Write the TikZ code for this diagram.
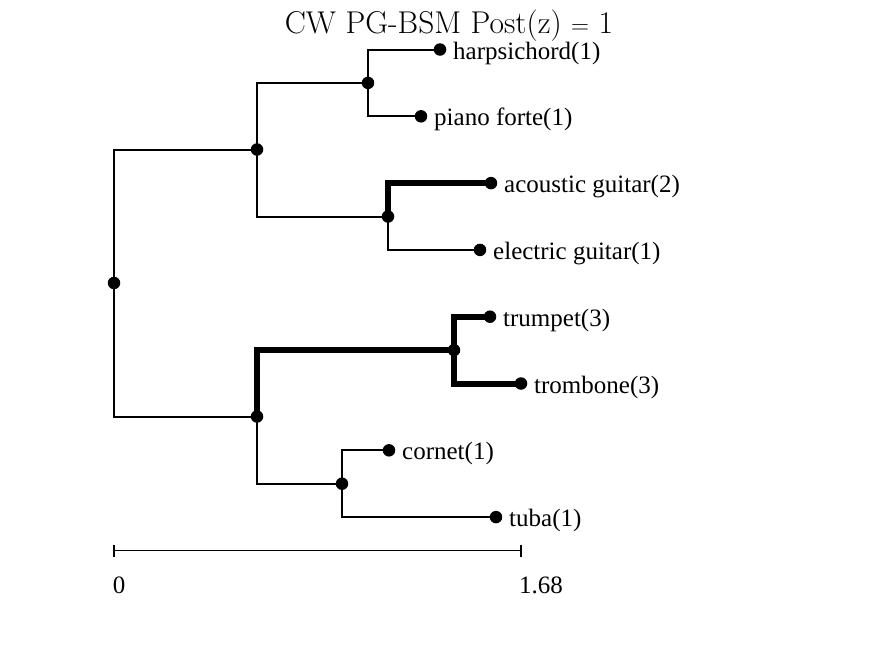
\documentclass[tikz,border=0pt]{standalone}
\usepackage{fontspec}
\newfontfamily\labfont{Liberation Serif}
\begin{document}
\begin{tikzpicture}[x=1pt,y=-1pt,
  thinedge/.style={line width=2pt,line join=miter},
  thickedge/.style={line width=6pt,line join=miter},
  dot/.style={circle,fill=black,inner sep=0pt,minimum size=12.5pt},
  leaflabel/.style={anchor=base west,inner sep=0pt,font=\labfont\fontsize{25}{30}\selectfont},
  scalelabel/.style={anchor=base,inner sep=0pt,font=\labfont\fontsize{25}{30}\selectfont}]
\useasboundingbox (0,0) rectangle (875,656);

% tree positions (root, internal nodes, leaves)
\coordinate (root) at (114,283);
\coordinate (up)   at (257,149.5);
\coordinate (lo)   at (257,416.5);
\coordinate (kb)   at (368,82.9);
\coordinate (gt)   at (388,216.5);
\coordinate (br)   at (454,350.1);
\coordinate (ct)   at (342,483.7);
\coordinate (harp) at (440,49.5);
\coordinate (pian) at (421,116.3);
\coordinate (acou) at (491,183.1);
\coordinate (elec) at (480,249.9);
\coordinate (trum) at (490,316.7);
\coordinate (trom) at (521,383.5);
\coordinate (corn) at (389,450.3);
\coordinate (tuba) at (496,517.1);

% ordinary branches
\draw[thinedge] (root) |- (up);
\draw[thinedge] (root) |- (lo);
\draw[thinedge] (up) |- (kb);
\draw[thinedge] (up) |- (gt);
\draw[thinedge] (kb) |- (harp);
\draw[thinedge] (kb) |- (pian);
\draw[thinedge] (gt) |- (elec);
\draw[thinedge] (lo) |- (ct);
\draw[thinedge] (ct) |- (corn);
\draw[thinedge] (ct) |- (tuba);

% highlighted branches
\draw[thickedge] (gt) |- (acou);
\draw[thickedge] (lo) |- (br);
\draw[thickedge] (br) |- (trum);
\draw[thickedge] (br) |- (trom);

% node markers
\foreach \c in {root,up,lo,kb,gt,br,ct,harp,pian,acou,elec,trum,trom,corn,tuba}
  \node[dot] (d-\c) at (\c) {};

% leaf names
\node[leaflabel] (l-harp) at ([xshift=13pt,yshift=-9.5pt]harp) {harpsichord(1)};
\node[leaflabel] (l-pian) at ([xshift=13pt,yshift=-9.5pt]pian) {piano forte(1)};
\node[leaflabel] (l-acou) at ([xshift=13pt,yshift=-9.5pt]acou) {acoustic guitar(2)};
\node[leaflabel] (l-elec) at ([xshift=13pt,yshift=-9.5pt]elec) {electric guitar(1)};
\node[leaflabel] (l-trum) at ([xshift=13pt,yshift=-9.5pt]trum) {trumpet(3)};
\node[leaflabel] (l-trom) at ([xshift=13pt,yshift=-9.5pt]trom) {trombone(3)};
\node[leaflabel] (l-corn) at ([xshift=13pt,yshift=-9.5pt]corn) {cornet(1)};
\node[leaflabel] (l-tuba) at ([xshift=13pt,yshift=-9.5pt]tuba) {tuba(1)};

% title
\node[anchor=base,inner sep=0pt,font=\fontsize{31.5}{38}\selectfont] (title) at (449,33) {CW PG-BSM Post(z) $=$ 1};

% scale bar
\coordinate (s0) at (114,550.5);
\coordinate (s1) at (521,550.5);
\draw[line width=1.5pt] (s0) -- (s1);
\draw[line width=1.5pt] ([yshift=6pt]s0) -- ([yshift=-6pt]s0);
\draw[line width=1.5pt] ([yshift=6pt]s1) -- ([yshift=-6pt]s1);
\node[scalelabel] (zero) at (119,593) {0};
\node[scalelabel] (max) at (541,593) {1.68};
\end{tikzpicture}
\end{document}
